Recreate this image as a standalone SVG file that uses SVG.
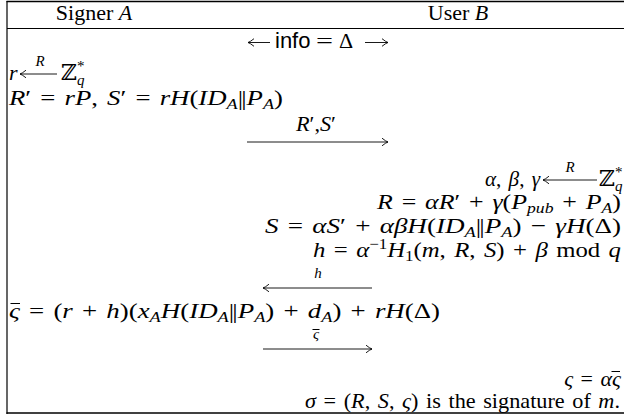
<svg xmlns="http://www.w3.org/2000/svg" width="624" height="418" viewBox="0 0 624 418">
<style>
.t{font-family:"Liberation Serif","DejaVu Serif",serif;font-size:22px;fill:#000}
.m{word-spacing:2px}
.i{font-style:italic}
.s{font-size:15px}
.p{letter-spacing:-1.5px}
.sans{font-family:"Liberation Sans",sans-serif}
.rule{stroke:#000;fill:none}
.arr{stroke:#000;stroke-width:0.9;fill:none;marker-end:url(#ah)}
.bar{stroke:#000;stroke-width:1}
</style>
<defs>
<marker id="ah" markerUnits="userSpaceOnUse" markerWidth="12" markerHeight="12" viewBox="-8 -6 10 12" refX="0" refY="0" orient="auto">
<path d="M-6,-3.8 Q-2,-0.6 0,0 Q-2,0.6 -6,3.8" fill="none" stroke="#000" stroke-width="0.9"/>
</marker>
</defs>
<rect width="624" height="418" fill="#fff"/>
<g id="frame">
<line class="rule" x1="6.5" y1="1.5" x2="624" y2="1.5" stroke-width="1.6"/>
<line class="rule" x1="7" y1="28.5" x2="624" y2="28.5" stroke-width="1.2" stroke="#333"/>
<line class="rule" x1="7" y1="1" x2="7" y2="414" stroke-width="1.2"/>
<line class="rule" x1="6.5" y1="413" x2="624" y2="413" stroke-width="1.6"/>
</g>
<g id="header">
<text class="t" x="94" y="20" text-anchor="middle">Signer <tspan class="i">A</tspan></text>
<text class="t" x="458" y="20" text-anchor="middle">User <tspan class="i">B</tspan></text>
</g>
<g id="info">
<text class="t sans" x="275" y="48">info</text>
<text class="t" x="316" y="48" textLength="17" lengthAdjust="spacingAndGlyphs">=</text>
<text class="t" x="339" y="48">Δ</text>
</g>
<g id="signer-step1">
<text class="t" x="9" y="80"><tspan class="i">r</tspan></text>
<text class="t s i" x="40" y="66" text-anchor="middle">R</text>
<text class="t" x="61" y="80">ℤ<tspan class="i s" dy="5">q</tspan><tspan class="s" dx="-7.5" dy="-14">*</tspan></text>
<text class="t m" x="9" y="105" textLength="274" lengthAdjust="spacingAndGlyphs"><tspan class="i">R</tspan>′ = <tspan class="i">rP</tspan>, <tspan class="i">S</tspan>′ = <tspan class="i">rH</tspan>(<tspan class="i">ID</tspan><tspan class="i s" dy="4">A</tspan><tspan class="p" dy="-4">||</tspan><tspan class="i" dx="1.5">P</tspan><tspan class="i s" dy="4">A</tspan><tspan dy="-4">)</tspan></text>
</g>
<g id="user-step1">
<text class="t m" x="485" y="186" textLength="55" lengthAdjust="spacingAndGlyphs"><tspan class="i">α</tspan>, <tspan class="i">β</tspan>, <tspan class="i">γ</tspan></text>
<text class="t s i" x="570" y="172" text-anchor="middle">R</text>
<text class="t" x="599" y="186">ℤ<tspan class="i s" dy="5">q</tspan><tspan class="s" dx="-7.5" dy="-14">*</tspan></text>
<text class="t m" x="621" y="209" text-anchor="end" textLength="244" lengthAdjust="spacingAndGlyphs"><tspan class="i">R</tspan> = <tspan class="i">αR</tspan>′ + <tspan class="i">γ</tspan>(<tspan class="i">P</tspan><tspan class="i s" dy="4">pub</tspan><tspan dy="-4"> + </tspan><tspan class="i">P</tspan><tspan class="i s" dy="4">A</tspan><tspan dy="-4">)</tspan></text>
<text class="t m" x="621" y="233" text-anchor="end" textLength="356" lengthAdjust="spacingAndGlyphs"><tspan class="i">S</tspan> = <tspan class="i">αS</tspan>′ + <tspan class="i">αβH</tspan>(<tspan class="i">ID</tspan><tspan class="i s" dy="4">A</tspan><tspan class="p" dy="-4">||</tspan><tspan class="i" dx="1.5">P</tspan><tspan class="i s" dy="4">A</tspan><tspan dy="-4">) − </tspan><tspan class="i">γH</tspan>(Δ)</text>
<text class="t m" x="621" y="257" text-anchor="end" textLength="308" lengthAdjust="spacingAndGlyphs"><tspan class="i">h</tspan> = <tspan class="i">α</tspan><tspan class="s" dy="-8">−1</tspan><tspan class="i" dy="8">H</tspan><tspan class="s" dy="4">1</tspan><tspan dy="-4">(</tspan><tspan class="i">m</tspan>, <tspan class="i">R</tspan>, <tspan class="i">S</tspan>) + <tspan class="i">β</tspan> mod <tspan class="i">q</tspan></text>
</g>
<g id="signer-step2">
<text class="t m" x="9" y="318" textLength="431" lengthAdjust="spacingAndGlyphs"><tspan class="i">ς</tspan> = (<tspan class="i">r</tspan> + <tspan class="i">h</tspan>)(<tspan class="i">x</tspan><tspan class="i s" dy="4">A</tspan><tspan class="i" dy="-4">H</tspan>(<tspan class="i">ID</tspan><tspan class="i s" dy="4">A</tspan><tspan class="p" dy="-4">||</tspan><tspan class="i" dx="1.5">P</tspan><tspan class="i s" dy="4">A</tspan><tspan dy="-4">) + </tspan><tspan class="i">d</tspan><tspan class="i s" dy="4">A</tspan><tspan dy="-4">) + </tspan><tspan class="i">rH</tspan>(Δ)</text>
<line class="bar" x1="10.5" y1="303.5" x2="20" y2="303.5"/>
</g>
<g id="user-step2">
<text class="t m" x="621" y="386" text-anchor="end"><tspan class="i">ς</tspan> = <tspan class="i">ας</tspan></text>
<line class="bar" x1="611.5" y1="371.5" x2="620" y2="371.5"/>
<text class="t m" x="620" y="408" text-anchor="end" textLength="315" lengthAdjust="spacingAndGlyphs"><tspan class="i">σ</tspan> = (<tspan class="i">R</tspan>, <tspan class="i">S</tspan>, <tspan class="i">ς</tspan>) is the signature of <tspan class="i">m</tspan>.</text>
</g>
<g id="connectors">
<path class="arr" d="M270,42.5 H248"/>
<path class="arr" d="M365,42.5 H388"/>
<path class="arr" d="M57,74 H20"/>
<path class="arr" d="M597,180 H543"/>
<path class="arr" d="M247,142 H388"/>
<text class="t" x="296" y="131" font-size="16.5" textLength="40" lengthAdjust="spacingAndGlyphs"><tspan class="i">R</tspan>′,<tspan class="i">S</tspan>′</text>
<path class="arr" d="M372,288 H263"/>
<text class="t s i" x="318" y="278" text-anchor="middle">h</text>
<path class="arr" d="M263,349 H372"/>
<text class="t s i" x="316" y="339" text-anchor="middle">ς</text>
<line class="bar" x1="312.5" y1="329.5" x2="319.5" y2="329.5"/>
</g>
</svg>
